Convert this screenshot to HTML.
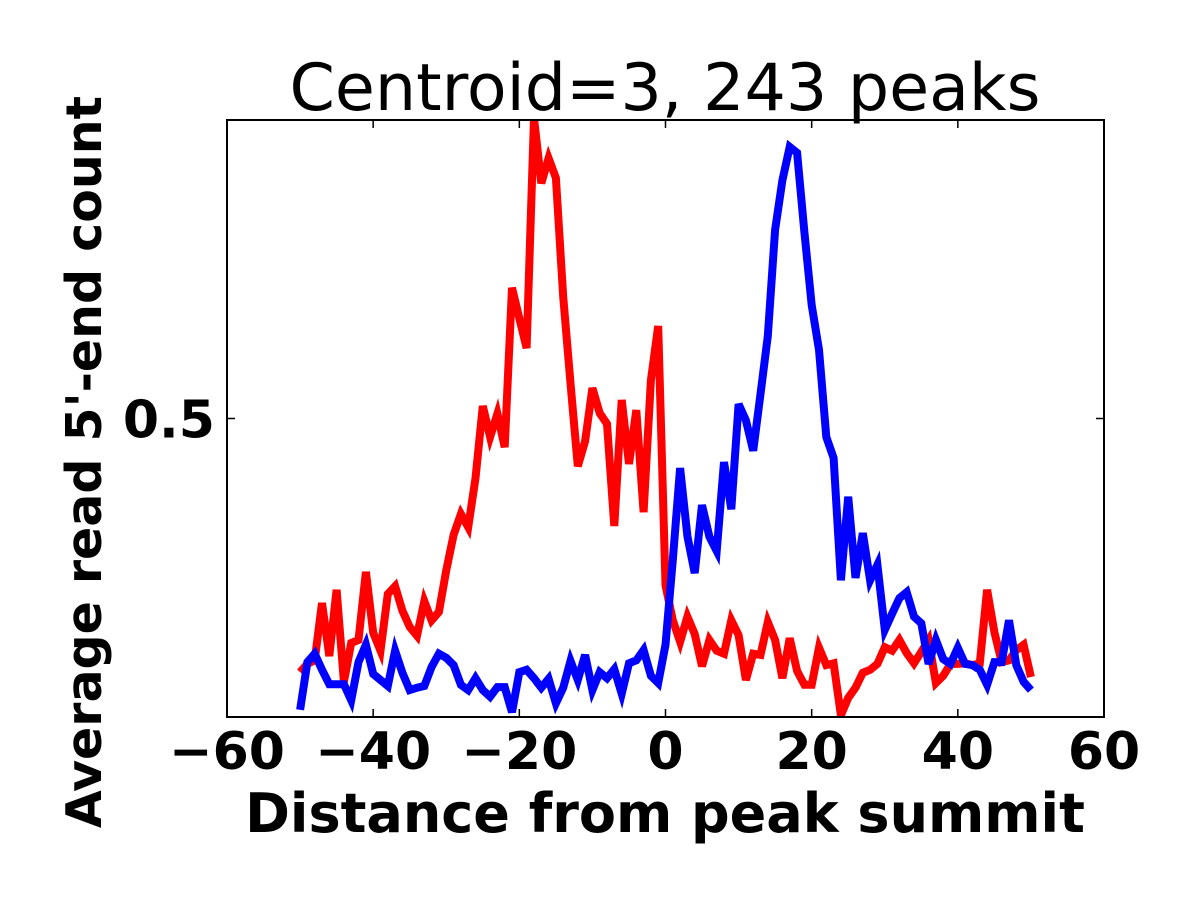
<!DOCTYPE html>
<html><head><meta charset="utf-8"><style>
body{margin:0;background:#fff}
svg text{font-family:"DejaVu Sans","Liberation Sans",sans-serif}
</style></head><body>
<svg id="chart" width="1200" height="900" xmlns="http://www.w3.org/2000/svg">
<rect width="1200" height="900" fill="#fff"/>
<defs><clipPath id="clip"><rect x="227" y="120" width="877" height="597"/></clipPath></defs>
<text x="665" y="110" font-size="65" text-anchor="middle">Centroid=3, 243 peaks</text>
<text x="665" y="832" font-size="54" font-weight="bold" text-anchor="middle">Distance from peak summit</text>
<text transform="translate(101,462) rotate(-90)" font-size="49" font-weight="bold" text-anchor="middle">Average read 5'-end count</text>
<g id="ticks"></g>
<g id="lines" clip-path="url(#clip)"></g>
<rect x="227" y="120" width="877" height="597" fill="none" stroke="#000" stroke-width="2"/>
</svg>
<script>
const xs = [];
for (let i = -50; i <= 50; i++) xs.push(i);
const redValues = [.075,.089,.095,.191,.102,.213,.059,.124,.129,.243,.141,.111,.206,.219,.178,.151,.136,.194,.162,.176,.246,.305,.340,.318,.400,.521,.469,.508,.452,.719,.668,.618,1.003,.894,.936,.903,.704,.559,.420,.462,.551,.509,.491,.320,.531,.424,.514,.343,.564,.655,.221,.162,.126,.168,.139,.085,.129,.111,.106,.162,.137,.062,.106,.104,.159,.129,.065,.132,.077,.054,.054,.116,.087,.090,.003,.032,.049,.074,.079,.089,.117,.111,.129,.107,.090,.109,.129,.057,.069,.089,.089,.090,.087,.090,.213,.142,.092,.095,.112,.121,.067];
const blueValues = [.012,.092,.106,.079,.055,.055,.055,.028,.092,.121,.072,.062,.052,.111,.074,.045,.049,.052,.084,.106,.099,.087,.054,.045,.065,.045,.034,.050,.050,.008,.075,.079,.065,.049,.064,.023,.049,.094,.062,.104,.045,.075,.065,.080,.039,.090,.095,.112,.069,.057,.121,.263,.417,.303,.241,.355,.302,.278,.427,.348,.524,.497,.446,.541,.638,.816,.899,.955,.945,.812,.690,.615,.469,.434,.229,.369,.233,.308,.229,.255,.146,.173,.199,.209,.168,.157,.089,.129,.097,.089,.116,.089,.087,.079,.054,.092,.092,.162,.087,.059,.045];
const xTicks = [-60,-40,-20,0,20,40,60];
const xTickLabels = ["\u221260","\u221240","\u221220","0","20","40","60"];
const yTicks = [0.5];
const yTickLabels = ["0.5"];

const X0=227,X1=1104,Y0=717,Y1=120;
const xMin=-60,xMax=60,yMin=0,yMax=1.0;
function sx(v){return X0+(v-xMin)/(xMax-xMin)*(X1-X0);}
function sy(v){return Y0-(v-yMin)/(yMax-yMin)*(Y0-Y1);}
const NS="http://www.w3.org/2000/svg";
const tg=document.getElementById('ticks');
xTicks.forEach((t,i)=>{
  const x=sx(t);
  const l=document.createElementNS(NS,'path');
  l.setAttribute('d',`M${x},${Y0}v-8M${x},${Y1}v8`);
  l.setAttribute('stroke','#000');l.setAttribute('stroke-width','1.5');
  
  
  tg.appendChild(l);
  const tx=document.createElementNS(NS,'text');
  tx.setAttribute('x',x);tx.setAttribute('y',Y0+52);
  tx.setAttribute('font-size','52');tx.setAttribute('font-weight','bold');tx.setAttribute('text-anchor','middle');
  tx.textContent=xTickLabels[i];
  
  
  tg.appendChild(tx);
});
yTicks.forEach((t,i)=>{
  const y=sy(t);
  const l=document.createElementNS(NS,'path');
  l.setAttribute('d',`M${X0},${y}h8M${X1},${y}h-8`);
  l.setAttribute('stroke','#000');l.setAttribute('stroke-width','1.5');
  
  
  tg.appendChild(l);
  const tx=document.createElementNS(NS,'text');
  tx.setAttribute('x',X0-12);tx.setAttribute('y',y+19);
  tx.setAttribute('font-size','52');tx.setAttribute('font-weight','bold');tx.setAttribute('text-anchor','end');
  tx.textContent=yTickLabels[i];
  
  
  tg.appendChild(tx);
});
const lg=document.getElementById('lines');
function drawLine(vals,color,name){
  const d=vals.map((v,i)=>(i?'L':'M')+sx(xs[i]).toFixed(1)+','+sy(v).toFixed(1)).join('');
  const p=document.createElementNS(NS,'path');
  p.setAttribute('d',d);p.setAttribute('fill','none');p.setAttribute('stroke',color);
  p.setAttribute('stroke-width','8');p.setAttribute('stroke-linejoin','miter');
  
  
  lg.appendChild(p);
}
drawLine(redValues,'#ff0000','red-series-line');
drawLine(blueValues,'#0000ff','blue-series-line');
</script>
</body></html>
